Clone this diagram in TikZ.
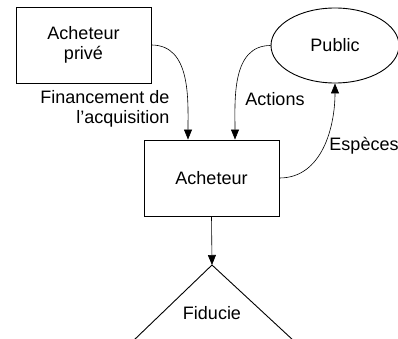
\documentclass[tikz,border=0pt]{standalone}
\usepackage{fontspec}
\setmainfont{Liberation Sans}
\usetikzlibrary{arrows.meta,calc,shapes.geometric}
\tikzset{
>={Triangle[length=10pt,width=8pt]},
boite/.style={draw,line width=0.9pt,minimum width=135pt,minimum height=76pt,inner sep=0pt,align=center},
bulle/.style={draw,ellipse,line width=0.9pt,minimum width=128pt,minimum height=75pt,inner sep=0pt},
freccia/.style={->,line width=0.6pt}}

\begin{document}
\begin{tikzpicture}[x=1pt,y=1pt,font=\fontsize{18}{20}\selectfont]
      \clip (0,0) rectangle (398,-339);

      \node[boite] (prive) at (83.5,-45) {Acheteur\\privé};
      \node[boite] (acheteur) at (211.5,-178) {Acheteur};
      \node[bulle] (public) at (335,-45.5) {Public};
      \coordinate (sommet) at (212,-265);
      \coordinate (fiducie g) at (133,-341);
      \coordinate (fiducie d) at (294,-341);
      \node (fiducie) at (212,-313) {Fiducie};

      \draw[line width=0.9pt] (fiducie g) -- (sommet) -- (fiducie d);

      \draw[freccia] (prive.east) to[out=0,in=90] ([xshift=-23.5pt]acheteur.north);
      \draw[freccia] (public.west) to[out=180,in=90] ([xshift=23.5pt]acheteur.north);
      \draw[freccia] (acheteur.east) to[out=0,in=-90] (public.south);
      \draw[freccia] (acheteur.south) -- (sommet);

      \node[align=right,anchor=east] at (173,-108.5) {Financement de\\l’acquisition};
      \node at (275,-99) {Actions};
      \node at (364,-146) {Espèces};
\end{tikzpicture}
\end{document}
